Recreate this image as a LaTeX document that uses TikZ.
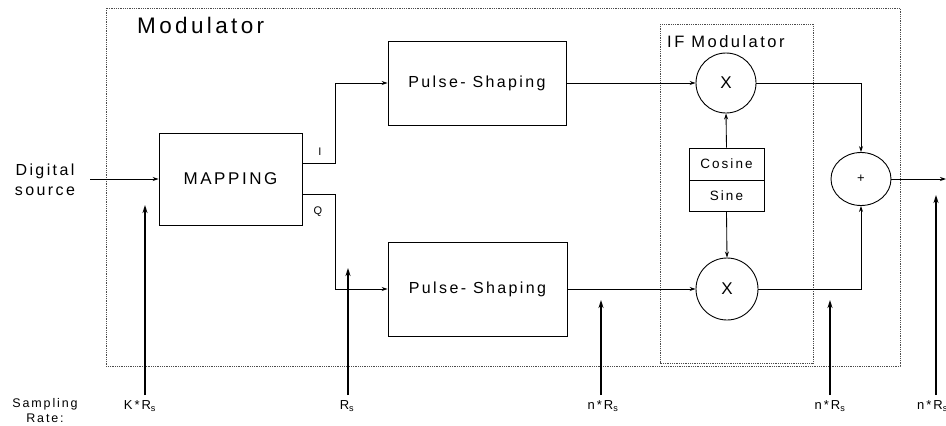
\documentclass[tikz,border=0pt]{standalone}
\usepackage{fontspec}
\setmainfont{Liberation Sans}[LetterSpace=15]
\usetikzlibrary{arrows.meta,shapes.geometric}
\tikzset{
  blk/.style={draw,line width=0.9pt,rectangle,inner sep=0pt,font=\fontsize{16}{18}\selectfont},
  mult/.style={draw,line width=0.9pt,circle,minimum size=60pt,inner sep=0pt,font=\fontsize{17}{18}\selectfont},
  conn/.style={line width=0.85pt,-{Stealth[length=6pt,width=4pt]}},
  rate/.style={line width=1.5pt,-{Stealth[length=8pt,width=5pt]}},
  frame/.style={draw=black!70,line width=0.8pt,densely dotted},
  lbl/.style={inner sep=0pt,font=\fontsize{13}{15}\selectfont},
}
\begin{document}
\begin{tikzpicture}[x=1pt,y=-1pt]
\useasboundingbox (0,0) rectangle (946,426);
% frames
\draw[frame] (106,8) rectangle (900,366);
\draw[frame] (660,24) rectangle (813,363);
\node[anchor=west,inner sep=0pt,font=\fontsize{22.5}{24}\selectfont] (modlbl) at (137,25) {Modulator};
\node[anchor=west,inner sep=0pt,font=\fontsize{16.5}{18}\selectfont] (iflbl) at (667,42) {IF Modulator};
% source
\node[align=center,inner sep=0pt,font=\fontsize{16}{20}\selectfont] (src) at (45,180) {Digital\\source};
\coordinate (srcout) at (90,179);
% blocks
\node[blk,minimum width=143pt,minimum height=92pt,font=\fontsize{17}{18}\selectfont] (map) at (230.5,179) {MAPPING};
\node[blk,minimum width=178pt,minimum height=84pt] (ps1) at (477,83) {Pulse- Shaping};
\node[blk,minimum width=179pt,minimum height=94pt] (ps2) at (477.5,289) {Pulse- Shaping};
\node[mult] (x1) at (726,83) {X};
\node[mult,minimum size=62pt] (x2) at (727,289) {X};
\node[blk,minimum width=75pt,minimum height=32pt,font=\fontsize{13.5}{15}\selectfont] (cos) at (726.5,164) {Cosine};
\node[blk,minimum width=75pt,minimum height=31pt,font=\fontsize{13.5}{15}\selectfont] (sin) at (726.5,195.5) {Sine};
\node[draw,line width=0.9pt,ellipse,minimum width=60pt,minimum height=53pt,inner sep=0pt,font=\fontsize{13}{15}\selectfont] (plus) at (861,179) {+};
% connectors
\draw[conn] (srcout) -- (map.west);
\coordinate (mI) at (302,163);
\coordinate (mQ) at (302,194);
\draw[conn] (mI) -- ++(33,0) |- (ps1.west);
\draw[conn] (mQ) -- ++(33,0) |- (ps2.west);
\node[lbl,font=\fontsize{11}{13}\selectfont] (Ilbl) at (320,152) {I};
\node[lbl,font=\fontsize{11}{13}\selectfont] (Qlbl) at (318,212) {Q};
\draw[conn] (ps1.east) -- (x1.west);
\draw[conn] (ps2.east) -- (x2.west);
\draw[conn] (cos.north) -- (x1.south);
\draw[conn] (sin.south) -- (x2.north);
\draw[conn] (x1.east) -| (plus.north);
\draw[conn] (x2.east) -| (plus.south);
\coordinate (out) at (946,179);
\draw[conn] (plus.east) -- (out);
% sampling rates
\node[lbl,align=center,font=\fontsize{12.5}{15}\selectfont] (samp) at (45,411) {Sampling\\Rate:};
\foreach \n/\x/\top in {a/145/205,b/348/268,c/601/300,d/830/300,e/936/195}{
  \coordinate (r\n b) at (\x,395);
  \coordinate (r\n t) at (\x,\top);
  \draw[rate] (r\n b) -- (r\n t);
}
\node[lbl] (la) at (140,406) {K*R\textsubscript{s}};
\node[lbl] (lb) at (347,406) {R\textsubscript{s}};
\node[lbl] (lc) at (603,406) {n*R\textsubscript{s}};
\node[lbl] (ld) at (830,406) {n*R\textsubscript{s}};
\node[lbl,anchor=west] (le) at (917,406) {n*R\textsubscript{s}};
\end{tikzpicture}
\end{document}
